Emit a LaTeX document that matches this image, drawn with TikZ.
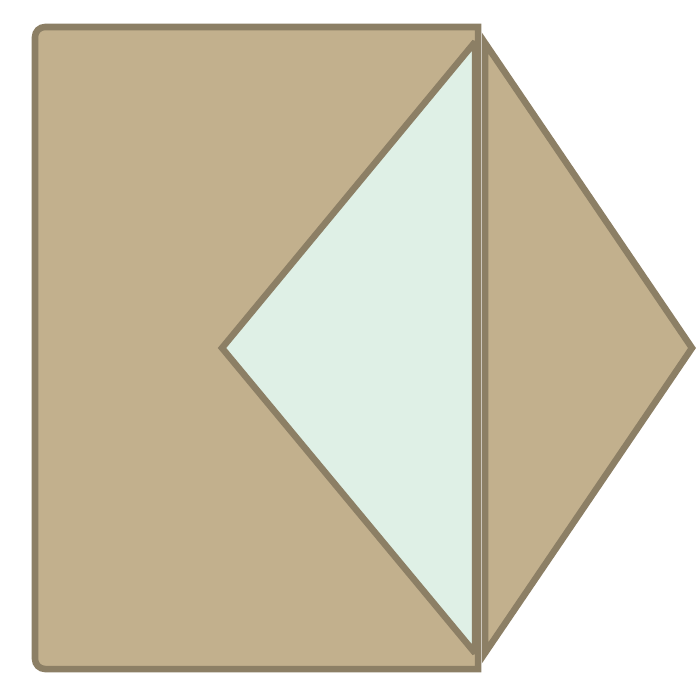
\documentclass[tikz,border=0pt]{standalone}
\definecolor{envtan}{HTML}{C2B08D}
\definecolor{envedge}{HTML}{8C7F65}
\definecolor{envmint}{HTML}{DFF0E6}
\begin{document}
\begin{tikzpicture}[x=.01cm,y=-.01cm,line join=miter,miter limit=2,
  paper/.style={fill=envtan,draw=envedge,line width=.065cm}]
  \useasboundingbox (0,0) rectangle (700,700);
  \draw[paper] (478,669) -- (478,27) [rounded corners=.1cm] -- (35,27) -- (35,669) [sharp corners] -- (478,669) -- cycle;
  \draw[paper,fill=envmint] (475,42) -- (222,348) -- (475,653) -- cycle;
  \draw[paper,miter limit=10] (485,43) -- (692,348) -- (485,653) -- cycle;
\end{tikzpicture}
\end{document}
